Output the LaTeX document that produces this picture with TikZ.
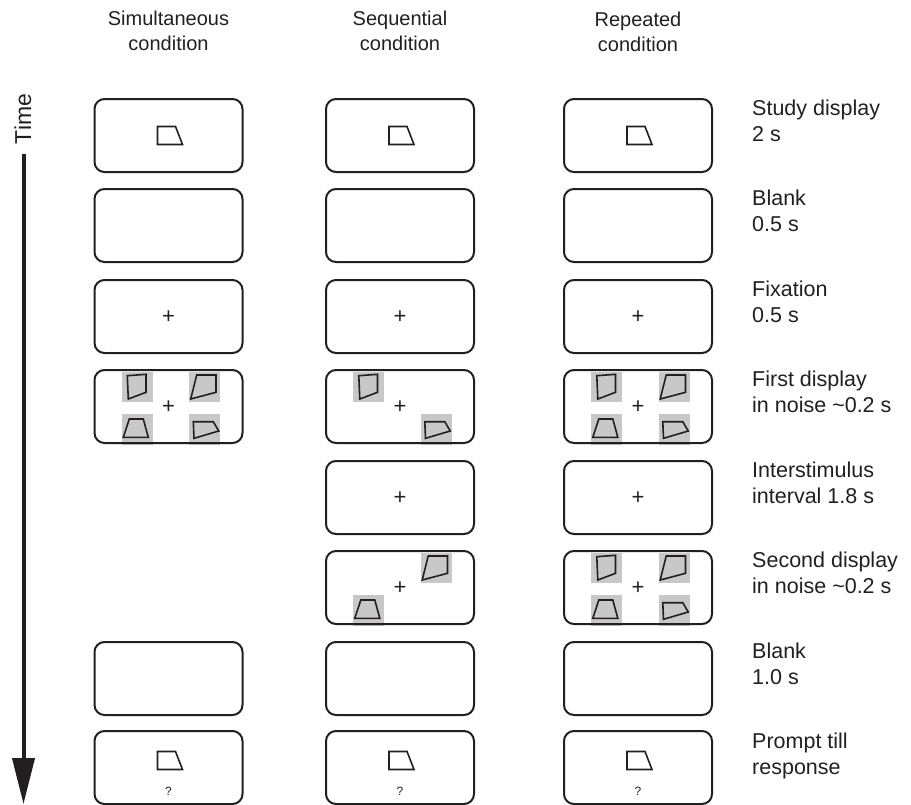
\documentclass[tikz,border=0pt]{standalone}
\usepackage{fontspec}
\setmainfont{Liberation Sans}
\usetikzlibrary{arrows.meta,backgrounds,calc}
\definecolor{patch}{RGB}{200,200,200}
\definecolor{ink}{RGB}{35,31,32}
\begin{document}
\begin{tikzpicture}[x=1pt,y=-1pt,
 frame/.style={draw=ink, line width=2pt, rounded corners=10pt, minimum width=148pt, minimum height=73pt, inner sep=0pt},
 lbl/.style={anchor=north west, inner sep=0pt, align=left, font=\fontsize{21.5}{25.5}\selectfont, text=ink},
 hdr/.style={anchor=north, inner sep=0pt, align=center, font=\fontsize{20}{25}\selectfont, text=ink},
 shp/.style={draw=ink, line width=1.6pt, line join=miter},
 cross/.style={font=\fontsize{22}{22}\selectfont, inner sep=0pt, text=ink},
 qm/.style={font=\fontsize{12}{12}\selectfont, inner sep=0pt, text=ink},
 pics/studyq/.style={code={\draw[shp] (-11,-9) -- (7,-9) -- (14,9) -- (-11,9) -- cycle;}},
 pics/pTL/.style={code={\fill[patch] (-15.5,-15) rectangle (15.5,15);
   \draw[shp] (-9.7,-11.3) -- (9,-12.7) -- (9,5.3) -- (-8.7,12) -- cycle;}},
 pics/pTR/.style={code={\fill[patch] (-15.5,-15) rectangle (15.5,15);
   \draw[shp] (-7.8,-12) -- (11.5,-12) -- (11.5,5.3) -- (-13.8,12) -- cycle;}},
 pics/pBL/.style={code={\fill[patch] (-15.5,-15.5) rectangle (15.5,15.5);
   \draw[shp] (-7.7,-10.5) -- (6.3,-10.5) -- (11.3,7.8) -- (-13.7,7.8) -- cycle;}},
 pics/pBR/.style={code={\fill[patch] (-15.5,-15.5) rectangle (15.5,15.5);
   \draw[shp] (-11.2,-7.8) -- (8.8,-7.8) -- (14.2,1.5) -- (-10.5,8.8) -- cycle;}},
]
\useasboundingbox (0,0) rectangle (911,804);

% headers
\node[hdr] (h1) at (168.5,11) {Simultaneous\\condition};
\node[hdr] (h2) at (400,11) {Sequential\\condition};
\node[hdr] (h3) at (638,12) {Repeated\\condition};

% time arrow
\node[rotate=90, inner sep=0pt, font=\fontsize{23}{23}\selectfont, text=ink] (time) at (23,119) {Time};
\coordinate (ta) at (23.5,154);
\coordinate (tb) at (23.5,804);
\draw[ink, line width=4pt, -{Triangle[length=46pt,width=22pt]}] (ta) -- (tb);

% frames: column 1
\node[frame] (b11) at (168.5,135.5) {};
\node[frame] (b21) at (168.5,225.5) {};
\node[frame] (b31) at (168.5,316.5) {};
\node[frame] (b41) at (168.5,406.5) {};
\node[frame] (b71) at (168.5,678.5) {};
\node[frame] (b81) at (168.5,767.5) {};
% column 2
\node[frame] (b12) at (400,135.5) {};
\node[frame] (b22) at (400,225.5) {};
\node[frame] (b32) at (400,316.5) {};
\node[frame] (b42) at (400,406.5) {};
\node[frame] (b52) at (400,497.5) {};
\node[frame] (b62) at (400,587.5) {};
\node[frame] (b72) at (400,678.5) {};
\node[frame] (b82) at (400,767.5) {};
% column 3
\node[frame] (b13) at (638,135.5) {};
\node[frame] (b23) at (638,225.5) {};
\node[frame] (b33) at (638,316.5) {};
\node[frame] (b43) at (638,406.5) {};
\node[frame] (b53) at (638,497.5) {};
\node[frame] (b63) at (638,587.5) {};
\node[frame] (b73) at (638,678.5) {};
\node[frame] (b83) at (638,767.5) {};

% study shapes
\pic at (b11) {studyq};
\pic at (b12) {studyq};
\pic at (b13) {studyq};
% prompt shapes
\pic at ($(b81)+(0,-7)$) {studyq};
\pic at ($(b82)+(0,-7)$) {studyq};
\pic at ($(b83)+(0,-7)$) {studyq};
\node[qm] (q1) at ($(b81)+(0,24)$) {?};
\node[qm] (q2) at ($(b82)+(0,24)$) {?};
\node[qm] (q3) at ($(b83)+(0,24)$) {?};

% fixation crosses
\foreach \b in {b31,b32,b33,b41,b42,b43,b52,b53,b62,b63}
  \node[cross] (c\b) at ($(\b)+(0,1)$) {+};

% noise patches
\begin{scope}[on background layer]
\foreach \b in {b41,b43,b63}{
  \pic at ($(\b)+(-31.5,-19.5)$) {pTL};
  \pic at ($(\b)+(36,-19.5)$) {pTR};
  \pic at ($(\b)+(-31.5,23)$) {pBL};
  \pic at ($(\b)+(36,23)$) {pBR};
}
\pic at ($(b42)+(-31.5,-19.5)$) {pTL};
\pic at ($(b42)+(36,23)$) {pBR};
\pic at ($(b62)+(36,-19.5)$) {pTR};
\pic at ($(b62)+(-31.5,23)$) {pBL};
\end{scope}

% right labels
\node[lbl] (l1) at (752,100) {Study display\\2 s};
\node[lbl] (l2) at (752,190) {Blank\\0.5 s};
\node[lbl] (l3) at (752,281) {Fixation\\0.5 s};
\node[lbl] (l4) at (752,371) {First display\\in noise \textasciitilde0.2 s};
\node[lbl] (l5) at (752,462) {Interstimulus\\interval 1.8 s};
\node[lbl] (l6) at (752,552) {Second display\\in noise \textasciitilde0.2 s};
\node[lbl] (l7) at (752,643) {Blank\\1.0 s};
\node[lbl] (l8) at (752,733) {Prompt till\\response};
\end{tikzpicture}
\end{document}
